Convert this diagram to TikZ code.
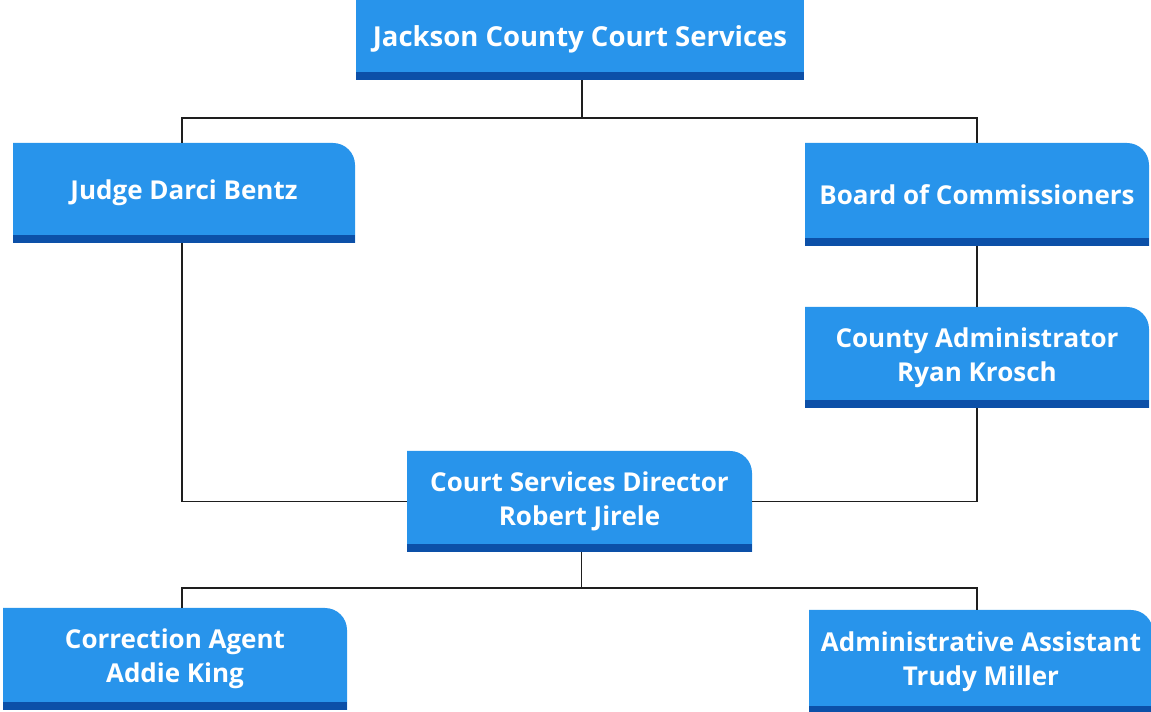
\documentclass[tikz,border=0pt]{standalone}
\usepackage{fontspec}
\setmainfont{Open Sans}
\definecolor{boxblue}{RGB}{40,148,235}
\definecolor{bandblue}{RGB}{12,80,168}
\definecolor{linegray}{RGB}{30,30,30}
\tikzset{
  orgbox/.style={rectangle, inner sep=0pt, text=white, align=center,
    font=\fontsize{26}{34}\selectfont\bfseries,
    path picture={
      \fill[boxblue] (path picture bounding box.south west)
        -- (path picture bounding box.north west)
        -- ([xshift=-22pt]path picture bounding box.north east)
        arc[start angle=90, end angle=0, radius=22pt]
        -- (path picture bounding box.south east) -- cycle;
      \fill[bandblue] (path picture bounding box.south west)
        rectangle ([yshift=8pt]path picture bounding box.south east);
    }},
  topbox/.style={rectangle, inner sep=0pt, text=white, align=center,
    font=\fontsize{27.5}{32}\selectfont\bfseries,
    path picture={
      \fill[boxblue] (path picture bounding box.south west)
        rectangle (path picture bounding box.north east);
      \fill[bandblue] (path picture bounding box.south west)
        rectangle ([yshift=8pt]path picture bounding box.south east);
    }},
  conn/.style={draw=linegray, line width=1.8pt}
}
\begin{document}
\begin{tikzpicture}[x=1pt, y=1pt]
\useasboundingbox (0,0) rectangle (1151,712);
\node[topbox, minimum width=448pt, minimum height=82pt] (top) at (580,673) {Jackson County Court Services};
\node[orgbox, minimum width=342pt, minimum height=100pt] (judge) at (184,519) {Judge Darci Bentz};
\node[orgbox, minimum width=344pt, minimum height=103pt] (board) at (977,517.5) {Board of Commissioners};
\node[orgbox, minimum width=344pt, minimum height=101pt] (county) at (977,354.5) {County Administrator\\Ryan Krosch};
\node[orgbox, minimum width=345pt, minimum height=101pt] (director) at (579.5,210.5) {Court Services Director\\Robert Jirele};
\node[orgbox, minimum width=344pt, minimum height=102pt] (agent) at (175,53) {Correction Agent\\Addie King};
\node[orgbox, minimum width=344pt, minimum height=104pt] (assistant) at (981,50) {Administrative Assistant\\Trudy Miller};

\coordinate (split1) at ([xshift=2pt]top.south |- 0,594);
\coordinate (split2) at ([xshift=2pt]director.south |- 0,124);
\draw[conn] ([xshift=2pt]top.south) -- (split1);
\draw[conn] ([xshift=-2pt]judge.north) |- (split1) -| (board.north);
\draw[conn] ([xshift=-2pt]judge.south) |- (director.west);
\draw[conn] (board.south) -- (county.north);
\draw[conn] (county.south) |- (director.east);
\draw[conn] ([xshift=2pt]director.south) -- (split2);
\draw[conn] ([xshift=7pt]agent.north) |- (split2) -| ([xshift=-4pt]assistant.north);
\end{tikzpicture}
\end{document}
